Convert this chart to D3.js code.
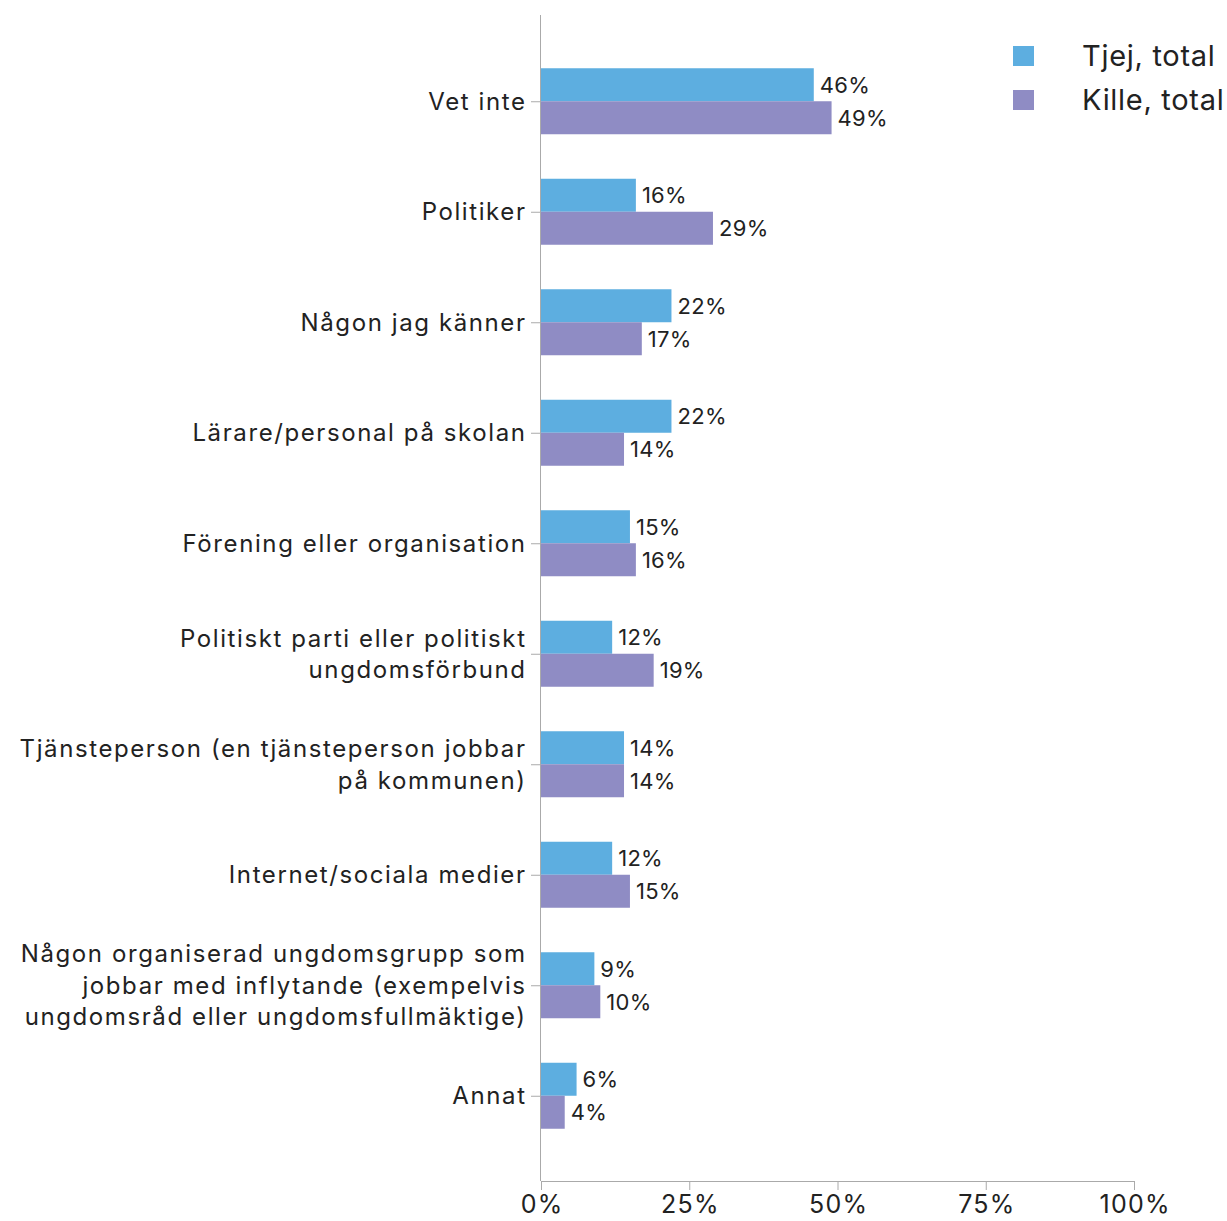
<!DOCTYPE html>
<html>
<head>
<meta charset="utf-8">
<script src="https://cdn.jsdelivr.net/npm/d3@7"></script>
<style>
  body { margin: 0; background: #fff; }
  svg { display: block; font-family: Inter, "Noto Sans", sans-serif; }
</style>
</head>
<body>
<svg id="chart" width="1227" height="1221"></svg>
<script>
// Answer categories, each label split into its display lines
const categories = [
  ["Vet inte"],
  ["Politiker"],
  ["Någon jag känner"],
  ["Lärare/personal på skolan"],
  ["Förening eller organisation"],
  ["Politiskt parti eller politiskt", "ungdomsförbund"],
  ["Tjänsteperson (en tjänsteperson jobbar", "på kommunen)"],
  ["Internet/sociala medier"],
  ["Någon organiserad ungdomsgrupp som", "jobbar med inflytande (exempelvis", "ungdomsråd eller ungdomsfullmäktige)"],
  ["Annat"]
];
const seriesNames = ["Tjej, total", "Kille, total"];
const tjej  = [46, 16, 22, 22, 15, 12, 14, 12, 9, 6];
const kille = [49, 29, 17, 14, 16, 19, 14, 15, 10, 4];
const xTicks = [0, 25, 50, 75, 100];
const colors = ["#5daee0", "#8f8cc4"];

const svg = d3.select("#chart");
const plotLeft = 541, plotRight = 1134, plotTop = 46, plotBottom = 1151;
const axisTop = 15, axisBottom = 1181;

const keys = categories.map((c, i) => i);
const y = d3.scaleBand().domain(keys).range([plotTop, plotBottom]).paddingInner(0).paddingOuter(0);
const x = d3.scaleLinear().domain([0, 100]).range([plotLeft, plotRight]);
const barH = 33;
const sub = d3.scaleBand().domain([0, 1]).range([y.bandwidth() / 2 - barH, y.bandwidth() / 2 + barH]);

const data = keys.flatMap(i => [
  { cat: i, s: 0, v: tjej[i] },
  { cat: i, s: 1, v: kille[i] }
]);

// bars
svg.append("g").selectAll("rect").data(data).join("rect")
  .attr("x", x(0))
  .attr("y", d => y(d.cat) + sub(d.s))
  .attr("width", d => x(d.v) - x(0))
  .attr("height", sub.bandwidth())
  .attr("fill", d => colors[d.s]);

// value labels
svg.append("g").selectAll("text").data(data).join("text")
  .attr("x", d => x(d.v) + 6)
  .attr("y", d => y(d.cat) + sub(d.s) + sub.bandwidth() / 2)
  .attr("dy", "0.36em")
  .attr("font-size", 22)
  .attr("letter-spacing", 0.3)
  .attr("fill", "#222")
  .text(d => d.v + "%");

// x axis
const xAxis = svg.append("g")
  .attr("transform", `translate(0,${axisBottom})`)
  .call(d3.axisBottom(x).tickValues(xTicks).tickSize(9).tickPadding(5).tickFormat(d => d + "%"));
xAxis.select(".domain").attr("stroke", "#aaa").attr("d", `M${plotLeft},0.5H${plotRight}`);
xAxis.selectAll(".tick line").attr("stroke", "#aaa");
xAxis.selectAll(".tick text").attr("font-size", 25).attr("fill", "#222")
  .attr("letter-spacing", 1.2).attr("dx", 0.6)
  .attr("font-family", "Inter, 'Noto Sans', sans-serif");

// y axis line and ticks
svg.append("line")
  .attr("x1", plotLeft - 0.5).attr("x2", plotLeft - 0.5)
  .attr("y1", axisTop).attr("y2", axisBottom)
  .attr("stroke", "#aaa");
svg.append("g").selectAll("line").data(keys).join("line")
  .attr("x1", plotLeft - 10).attr("x2", plotLeft)
  .attr("y1", d => y(d) + y.bandwidth() / 2 + 0.5)
  .attr("y2", d => y(d) + y.bandwidth() / 2 + 0.5)
  .attr("stroke", "#aaa");

// category labels
const lineH = 31.5;
const labelX = plotLeft - 16 + 1.6;
const lab = svg.append("g").selectAll("text").data(keys).join("text")
  .attr("text-anchor", "end")
  .attr("font-size", 24)
  .attr("letter-spacing", 1.6)
  .attr("fill", "#222")
  .attr("x", labelX)
  .attr("y", d => y(d) + y.bandwidth() / 2 - (categories[d].length - 1) * lineH / 2);
lab.selectAll("tspan").data(d => categories[d]).join("tspan")
  .attr("x", labelX)
  .attr("dy", (t, j) => j === 0 ? "0.36em" : lineH)
  .text(t => t);

// legend
const leg = svg.append("g").selectAll("g").data(seriesNames).join("g")
  .attr("transform", (d, i) => `translate(1013,${56 + i * 44})`);
leg.append("rect").attr("x", 0).attr("y", -10).attr("width", 21).attr("height", 20)
  .attr("fill", (d, i) => colors[i]);
leg.append("text").attr("x", 69).attr("dy", "0.36em").attr("font-size", 29)
  .attr("letter-spacing", 0.7).attr("fill", "#222")
  .text(d => d);
</script>
</body>
</html>
